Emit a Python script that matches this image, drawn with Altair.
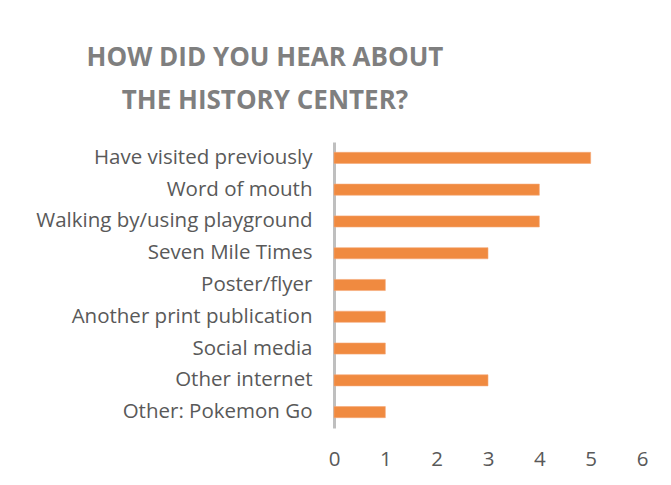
import altair as alt
import pandas as pd

categories = [
    "Have visited previously",
    "Word of mouth",
    "Walking by/using playground",
    "Seven Mile Times",
    "Poster/flyer",
    "Another print publication",
    "Social media",
    "Other internet",
    "Other: Pokemon Go",
]
counts = [5, 4, 4, 3, 1, 1, 1, 3, 1]
x_ticks = [0, 1, 2, 3, 4, 5, 6]
title_lines = ["HOW DID YOU HEAR ABOUT", "THE HISTORY CENTER?"]

df = pd.DataFrame({"source": categories, "count": counts})

FONT = "Open Sans"

bars = alt.Chart(df).mark_bar(color="#F08A40", stroke="#F5A877", strokeWidth=0.6).encode(
    y=alt.Y(
        "source:N",
        sort=categories,
        title=None,
        scale=alt.Scale(paddingInner=0.65, paddingOuter=0.325),
        axis=alt.Axis(
            domain=True,
            domainColor="#BFBFBF",
            domainWidth=3,
            ticks=False,
            labelFont=FONT,
            labelFontSize=20.5,
            labelColor="#595959",
            labelPadding=22,
            labelLimit=400,
        ),
    ),
    x=alt.X(
        "count:Q",
        title=None,
        scale=alt.Scale(domain=[0, 6]),
        axis=alt.Axis(
            values=x_ticks,
            domain=False,
            ticks=False,
            grid=False,
            labelFlush=False,
            labelFont=FONT,
            labelFontSize=20.5,
            labelColor="#595959",
            labelPadding=21,
        ),
    ),
)

chart = bars.properties(
    width=308,
    height=286,
    autosize=alt.AutoSizeParams(type="none"),
    padding={"left": 326, "top": 134, "right": 21, "bottom": 49},
    title=alt.TitleParams(
        text=title_lines,
        font=FONT,
        fontSize=26,
        fontWeight="bold",
        color="#7F7F7F",
        anchor="middle",
        dx=-223,
        lineHeight=43,
        offset=28,
    ),
).configure_view(stroke=None)

chart.save("out.html", embed_options={"renderer": "svg", "actions": False})
